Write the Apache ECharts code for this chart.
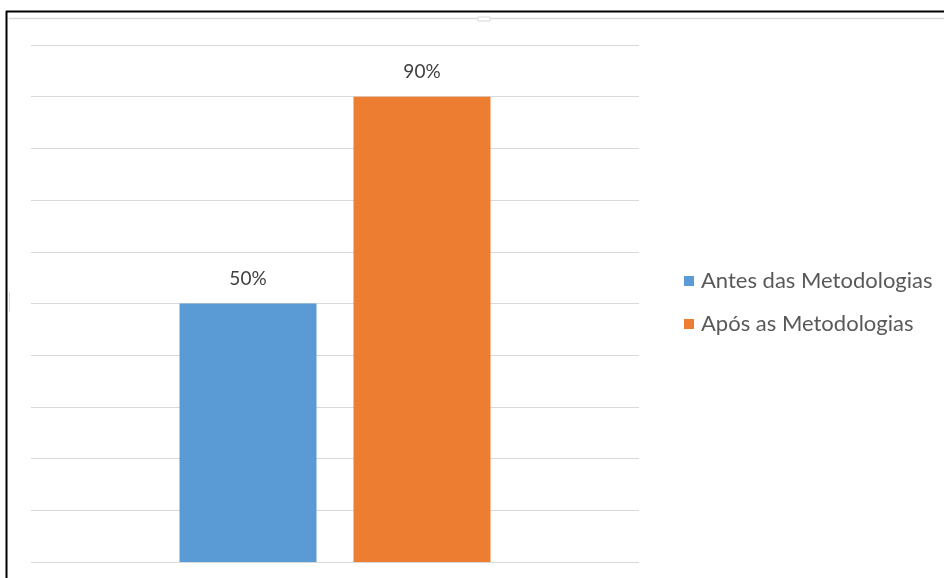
<!DOCTYPE html>
<html>
<head>
<meta charset="utf-8">
<script src="https://cdn.jsdelivr.net/npm/echarts@6/dist/echarts.min.js"></script>
<style>
html,body{margin:0;padding:0;background:#fff;}
#c{width:944px;height:578px;}
</style>
</head>
<body>
<div id="c"></div>
<script>
const categories = ['Resultado'];
const seriesNames = ['Antes das Metodologias', 'Após as Metodologias'];
const antesValues = [50];
const aposValues = [90];
const yTicks = [0, 10, 20, 30, 40, 50, 60, 70, 80, 90, 100];

const colors = ['#5B9BD5', '#ED7D31'];
const font = 'Lato';

const chart = echarts.init(document.getElementById('c'), null, {renderer: 'canvas'});
const labelCfg = {
  show: true, position: 'top', distance: 15,
  formatter: p => p.value + '%',
  color: '#404040', fontFamily: font, fontSize: 19
};
chart.setOption({
  animation: false,
  backgroundColor: '#fff',
  grid: {left: 31, right: 305, top: 45, bottom: 16, containLabel: false},
  xAxis: {
    type: 'category', data: categories,
    axisLine: {show: false}, axisTick: {show: false}, axisLabel: {show: false}
  },
  yAxis: {
    type: 'value', min: yTicks[0], max: yTicks[yTicks.length - 1], interval: 10,
    axisLine: {show: false}, axisTick: {show: false}, axisLabel: {show: false},
    splitLine: {lineStyle: {color: '#D9D9D9', width: 1}}
  },
  legend: {
    orient: 'vertical', left: 684, top: 270, padding: 0,
    itemWidth: 10, itemHeight: 10, itemGap: 21,
    icon: 'rect',
    textStyle: {color: '#595959', fontFamily: font, fontSize: 22, padding: [0, 0, 0, 2]},
    data: seriesNames
  },
  series: [
    {name: seriesNames[0], type: 'bar', data: antesValues, barWidth: 137, barGap: '27%',
     itemStyle: {color: colors[0]}, label: labelCfg},
    {name: seriesNames[1], type: 'bar', data: aposValues, barWidth: 137,
     itemStyle: {color: colors[1]}, label: labelCfg}
  ],
  graphic: [
    {type: 'line', shape: {x1: 6, y1: 11.5, x2: 944, y2: 11.5}, style: {stroke: '#000', lineWidth: 2}, silent: true},
    {type: 'line', shape: {x1: 6.5, y1: 11, x2: 6.5, y2: 578}, style: {stroke: '#000', lineWidth: 2}, silent: true},
    {type: 'line', shape: {x1: 9, y1: 18.5, x2: 944, y2: 18.5}, style: {stroke: '#D9D9D9', lineWidth: 1.5}, silent: true},
    {type: 'rect', shape: {x: 478, y: 17, width: 12, height: 4}, style: {fill: '#fff', stroke: '#D9D9D9', lineWidth: 1}, silent: true},
    {type: 'line', shape: {x1: 9.5, y1: 292, x2: 9.5, y2: 312}, style: {stroke: '#D9D9D9', lineWidth: 1}, silent: true}
  ]
});
</script>
</body>
</html>
